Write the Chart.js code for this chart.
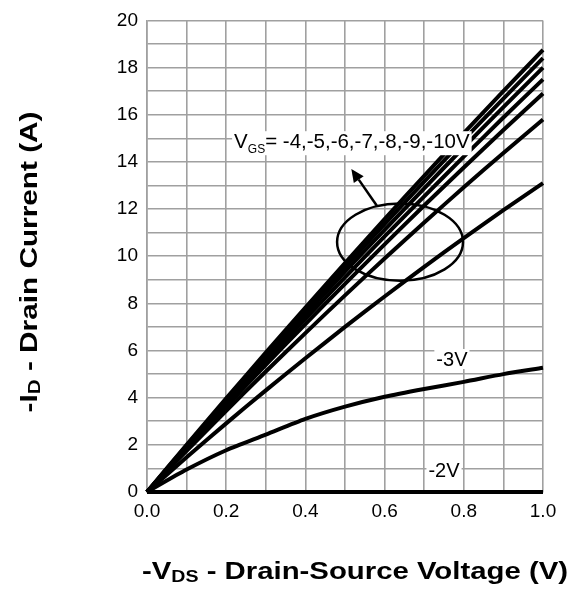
<!DOCTYPE html>
<html><head><meta charset="utf-8">
<script src="https://cdn.jsdelivr.net/npm/chart.js@4.4.1/dist/chart.umd.min.js"></script>
<style>html,body{margin:0;padding:0;background:#fff}#wrap{width:571px;height:596px;position:relative}canvas{display:block}</style>
</head><body><div id="wrap"><canvas id="c" width="571" height="596"></canvas></div>
<script>
// Drain-source voltage (V) sample points
const vds = [0, 0.1, 0.2, 0.3, 0.4, 0.5, 0.6, 0.7, 0.8, 0.9, 1.0];
// -ID (A) for each gate voltage
const id_m10 = [0, 2.00, 3.97, 5.91, 7.82, 9.71, 11.57, 13.41, 15.22, 17.00, 18.75];
const id_m9  = [0, 1.96, 3.90, 5.80, 7.68, 9.54, 11.36, 13.16, 14.94, 16.68, 18.40];
const id_m8  = [0, 1.92, 3.82, 5.68, 7.52, 9.34, 11.12, 12.88, 14.62, 16.32, 18.00];
const id_m7  = [0, 1.88, 3.72, 5.54, 7.34, 9.10, 10.84, 12.54, 14.22, 15.88, 17.50];
const id_m6  = [0, 1.83, 3.62, 5.39, 7.12, 8.83, 10.50, 12.15, 13.76, 15.35, 16.90];
const id_m5  = [0, 1.74, 3.44, 5.11, 6.74, 8.34, 9.90, 11.43, 12.92, 14.38, 15.80];
const id_m4  = [0, 1.47, 2.91, 4.31, 5.67, 7.00, 8.29, 9.55, 10.77, 11.95, 13.10];
const id_m3  = [0, 0.95, 1.77, 2.43, 3.10, 3.62, 4.04, 4.37, 4.67, 5.00, 5.27];
const id_m2  = [0, 0, 0, 0, 0, 0, 0, 0, 0, 0, 0];
const seriesNames = ['-10V','-9V','-8V','-7V','-6V','-5V','-4V','-3V','-2V'];
const seriesData = [id_m10, id_m9, id_m8, id_m7, id_m6, id_m5, id_m4, id_m3, id_m2];
// Axis tick label values
const xTickLabels = ['0.0','0.2','0.4','0.6','0.8','1.0'];
const yTickLabels = ['0','2','4','6','8','10','12','14','16','18','20'];
// Annotation texts
const vgsLabelMain = 'V';
const vgsLabelSub = 'GS';
const vgsLabelRest = '= -4,-5,-6,-7,-8,-9,-10V';
const label3 = '-3V';
const label2 = '-2V';

const FONT = '"Liberation Sans", Arial, Helvetica, sans-serif';

const datasets = seriesData.map((arr, i) => ({
  label: seriesNames[i],
  data: vds.map((v, k) => ({x: v, y: arr[k]})),
  borderColor: '#000',
  backgroundColor: '#000',
  borderWidth: 4,
  pointRadius: 0,
  tension: 0.25,
  fill: false,
  clip: false
}));

function drawParts(ctx, parts, cx, base, targetW) {
  let tw = 0;
  parts.forEach(p => { ctx.font = p[1]; tw += ctx.measureText(p[0]).width; });
  const sx = targetW / tw;
  ctx.save();
  ctx.translate(cx, base);
  ctx.scale(sx, 1);
  let x = -tw / 2;
  parts.forEach(p => { ctx.font = p[1]; ctx.fillText(p[0], x, p[2]); x += ctx.measureText(p[0]).width; });
  ctx.restore();
}

const annot = {
  id: 'annot',
  afterDatasetsDraw(chart) {
    const ctx = chart.ctx;
    const xs = chart.scales.x, ys = chart.scales.y;
    const px = v => xs.getPixelForValue(v);
    const py = v => ys.getPixelForValue(v);
    ctx.save();
    // ellipse
    const cx = px(0.639), cy = py(10.6);
    const rx = px(0.639 + 0.159) - cx, ry = cy - py(10.6 + 1.64);
    ctx.beginPath();
    ctx.ellipse(cx, cy, rx, ry, 0, 0, Math.PI * 2);
    ctx.lineWidth = 2.5; ctx.strokeStyle = '#000'; ctx.stroke();
    // arrow
    const ax0 = px(0.58), ay0 = py(12.15), ax1 = px(0.516), ay1 = py(13.7);
    const ang = Math.atan2(ay1 - ay0, ax1 - ax0);
    const hl = 13, hw = 6;
    const bx = ax1 - hl * Math.cos(ang), by = ay1 - hl * Math.sin(ang);
    ctx.beginPath(); ctx.moveTo(ax0, ay0); ctx.lineTo(bx, by); ctx.lineWidth = 2.5; ctx.stroke();
    ctx.beginPath();
    ctx.moveTo(ax1, ay1);
    ctx.lineTo(bx + hw * Math.sin(ang), by - hw * Math.cos(ang));
    ctx.lineTo(bx - hw * Math.sin(ang), by + hw * Math.cos(ang));
    ctx.closePath(); ctx.fillStyle = '#000'; ctx.fill();
    // VGS label
    const big = '20.5px ' + FONT, small = '12px ' + FONT;
    let lx = px(0.22), lb = py(14.58);
    ctx.font = big; const w1 = ctx.measureText(vgsLabelMain).width;
    ctx.font = small; const w2 = ctx.measureText(vgsLabelSub).width;
    ctx.font = big; const w3 = ctx.measureText(vgsLabelRest).width;
    ctx.fillStyle = '#fff';
    ctx.fillRect(lx - 2, lb - 17, w1 + w2 + w3 + 4, 24);
    ctx.fillStyle = '#000'; ctx.textBaseline = 'alphabetic'; ctx.textAlign = 'left';
    ctx.font = big; ctx.fillText(vgsLabelMain, lx, lb);
    ctx.font = small; ctx.fillText(vgsLabelSub, lx + w1, lb + 5);
    ctx.font = big; ctx.fillText(vgsLabelRest, lx + w1 + w2, lb);
    // -3V and -2V labels
    ctx.font = '20px ' + FONT; ctx.textAlign = 'center'; ctx.textBaseline = 'middle';
    [[label3, 0.77, 5.64], [label2, 0.75, 0.93]].forEach(([t, x, y]) => {
      const w = ctx.measureText(t).width;
      ctx.fillStyle = '#fff';
      ctx.fillRect(px(x) - w / 2 - 2, py(y) - 10, w + 4, 20);
      ctx.fillStyle = '#000';
      ctx.fillText(t, px(x), py(y) + 1);
    });
    ctx.restore();
  },
  afterDraw(chart) {
    const ctx = chart.ctx;
    ctx.save();
    ctx.fillStyle = '#000';
    ctx.textBaseline = 'alphabetic';
    ctx.textAlign = 'left';
    // X title
    const xb = 'bold 24px ' + FONT, xs = 'bold 16px ' + FONT;
    drawParts(ctx, [['-V', xb, 0], ['DS', xs, 3], [' - Drain-Source Voltage (V)', xb, 0]], 355, 579, 426);
    // Y title (rotated)
    const yb = 'bold 23px ' + FONT, ysm = 'bold 16px ' + FONT;
    ctx.save();
    ctx.translate(37, 262);
    ctx.rotate(-Math.PI / 2);
    drawParts(ctx, [['-I', yb, 0], ['D', ysm, 3], [' - Drain Current (A)', yb, 0]], 0, 0, 301);
    ctx.restore();
    ctx.restore();
  }
};

new Chart(document.getElementById('c'), {
  type: 'line',
  data: { datasets },
  options: {
    responsive: false,
    animation: false,
    devicePixelRatio: 1,
    layout: { padding: { left: 0, right: 28, top: 17, bottom: 0 } },
    plugins: { legend: { display: false }, tooltip: { enabled: false } },
    scales: {
      x: {
        type: 'linear', min: 0, max: 1,
        afterFit: s => { s.height = 104; },
        ticks: {
          stepSize: 0.1, color: '#000', padding: 8,
          font: { size: 19, family: FONT },
          maxRotation: 0, autoSkip: false,
          callback: (v, i) => (i % 2 === 0 ? xTickLabels[i / 2] : '')
        },
        grid: { color: '#a0a0a0', lineWidth: 1.6, drawTicks: false },
        border: { display: true, color: '#a0a0a0', width: 1.6 }
      },
      y: {
        type: 'linear', min: 0, max: 20,
        afterFit: s => { s.width = 147; },
        ticks: {
          stepSize: 1, color: '#000', padding: 9,
          font: { size: 19, family: FONT },
          autoSkip: false,
          callback: (v, i) => (i % 2 === 0 ? yTickLabels[i / 2] : '')
        },
        grid: { color: '#a0a0a0', lineWidth: 1.6, drawTicks: false },
        border: { display: true, color: '#a0a0a0', width: 1.6 }
      }
    }
  },
  plugins: [annot]
});
</script></body></html>
